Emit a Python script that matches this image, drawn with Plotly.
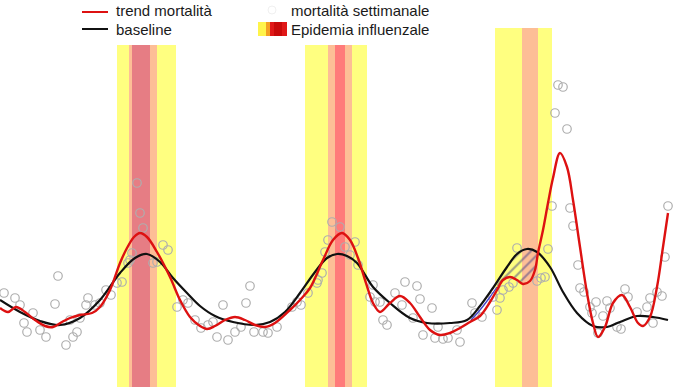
import plotly.graph_objects as go

W, H = 690, 387

# ---- data (x: time position, y: mortality level) ----
trend_x = [0, 8, 16, 25, 35, 45, 53, 62, 70, 80, 92, 100, 110, 120, 127, 134, 140, 147, 157, 170, 180, 190, 200,
           207, 215, 225, 235, 245, 255, 265, 275, 290, 300, 310, 323, 333, 342, 350, 358, 366, 373, 380, 390, 400,
           410, 420, 430, 440, 450, 460, 470, 480, 490, 497, 503, 510, 517, 523, 530, 535, 538, 543, 548, 553, 560,
           567, 573, 580, 587, 593, 598, 605, 613, 622, 630, 638, 643, 650, 657, 663, 668]
trend_y = [92, 88, 93, 88, 80, 74, 73, 78, 82, 85, 87, 93, 110, 137, 152, 163, 167, 163, 148, 123, 100, 83, 74,
           71, 74, 80, 83, 80, 75, 73, 77, 90, 100, 112, 140, 160, 167, 160, 142, 117, 97, 88, 97, 104,
           97, 83, 70, 65, 67, 72, 78, 84, 98, 110, 120, 123, 120, 116, 119, 130, 147, 170, 197, 222, 247,
           233, 200, 153, 107, 77, 63, 73, 97, 105, 93, 77, 74, 83, 113, 153, 187]

base_x = [0, 20, 40, 60, 80, 100, 120, 135, 147, 160, 173, 187, 200, 215, 233, 255, 270, 285, 300, 315, 327, 337,
          347, 357, 373, 390, 410, 427, 450, 467, 480, 493, 507, 517, 527, 537, 550, 563, 577, 593, 607, 620, 637,
          653, 668]
base_y = [100, 88, 79, 75, 82, 100, 127, 142, 146, 138, 122, 107, 94, 84, 78, 75, 78, 88, 107, 128, 142, 146,
          144, 137, 113, 97, 82, 77, 77, 80, 94, 112, 133, 146, 151, 148, 133, 108, 87, 74, 73, 78, 84,
          83, 80]

obs_x = [4, 15, 20, 24, 27, 33, 40, 46, 55, 58, 66, 73, 77, 70, 80, 86, 88, 95, 100, 106, 111, 117, 122, 128, 130,
         132, 137, 140, 143, 153, 157, 163, 168, 177, 183, 188, 195, 201, 208, 213, 217, 223, 228, 235, 241, 246,
         250, 254, 263, 268, 277, 292, 297, 301, 308, 317, 318, 322, 325, 328, 332, 340, 345, 350, 355, 358, 370,
         373, 375, 380, 383, 387, 395, 402, 405, 413, 417, 420, 423, 432, 435, 438, 443, 448, 457, 460, 472, 475,
         482, 493, 497, 500, 503, 509, 513, 517, 537, 541, 545, 548, 552, 555, 558, 563, 567, 570, 573, 578, 580,
         584, 590, 592, 596, 598, 603, 607, 610, 617, 621, 625, 628, 637, 647, 650, 653, 657, 662, 665, 668]
obs_y = [107, 102, 95, 77, 68, 87, 70, 63, 96, 124, 55, 63, 68, 80, 82, 95, 102, 95, 97, 110, 105, 117, 118, 137,
         140, 147, 217, 187, 172, 137, 138, 155, 150, 93, 100, 97, 80, 72, 75, 78, 63, 95, 60, 68, 73, 97,
         114, 68, 68, 67, 73, 93, 98, 95, 107, 117, 120, 127, 148, 160, 178, 173, 153, 145, 158, 135, 103,
         115, 98, 98, 80, 75, 107, 95, 118, 82, 114, 101, 65, 92, 62, 73, 61, 62, 70, 58, 97, 87,
         83, 103, 90, 102, 110, 113, 117, 152, 119, 122, 123, 151, 194, 287, 315, 313, 271, 192, 174, 135, 112,
         108, 93, 87, 98, 67, 84, 99, 92, 73, 71, 111, 103, 88, 93, 102, 77, 108, 104, 143, 194]

# excess segment (blue) and hatched excess area in the third epidemic
blue_x = [471, 480, 490, 497]
blue_y = [80, 90, 103, 113]
hatch_upper_x = [497, 507, 517, 527, 537]
hatch_upper_y = [115, 133, 146, 151, 148]
hatch_lower_x = [537, 535, 530, 523, 517, 510, 503, 497]
hatch_lower_y = [147, 130, 119, 116, 120, 123, 120, 112]

# epidemic periods: (start, end, top) for each intensity layer
epi_yellow = [(117, 176, 355), (305, 367, 355), (495, 552, 372)]
epi_salmon = [(129, 157, 355), (328, 352, 355), (522, 538, 372)]
epi_red = [(132, 150, 355, "#E67D84"), (335, 345, 355, "#FF7A7A")]

Y_MIN, Y_MAX = 13, 400

fig = go.Figure()

shapes = []
for x0, x1, top in epi_yellow:
    shapes.append(dict(type="rect", xref="x", yref="y", x0=x0, x1=x1, y0=Y_MIN - 5, y1=top,
                       fillcolor="#FFFF80", line=dict(width=0), layer="below"))
for x0, x1, top in epi_salmon:
    shapes.append(dict(type="rect", xref="x", yref="y", x0=x0, x1=x1, y0=Y_MIN - 5, y1=top,
                       fillcolor="#FDBE96", line=dict(width=0), layer="below"))
for x0, x1, top, col in epi_red:
    shapes.append(dict(type="rect", xref="x", yref="y", x0=x0, x1=x1, y0=Y_MIN - 5, y1=top,
                       fillcolor=col, line=dict(width=0), layer="below"))

fig.add_trace(go.Scatter(x=obs_x, y=obs_y, mode="markers",
                         marker=dict(symbol="circle-open", size=8.5, color="#AEAEAE", line=dict(width=1.2)),
                         showlegend=False))

fig.add_trace(go.Scatter(x=hatch_upper_x + hatch_lower_x, y=hatch_upper_y + hatch_lower_y,
                         mode="lines", fill="toself", line=dict(width=0, shape="spline"),
                         fillcolor="rgba(0,0,0,0)",
                         fillpattern=dict(shape="/", fgcolor="#3C3C88", bgcolor="rgba(0,0,0,0)",
                                          size=7, solidity=0.3),
                         showlegend=False))

fig.add_trace(go.Scatter(x=blue_x, y=blue_y, mode="lines",
                         line=dict(color="#4444CC", width=1.3, shape="spline"), showlegend=False))

fig.add_trace(go.Scatter(x=base_x, y=base_y, mode="lines",
                         line=dict(color="#111111", width=2.2, shape="spline", smoothing=1.0),
                         showlegend=False))
fig.add_trace(go.Scatter(x=trend_x, y=trend_y, mode="lines",
                         line=dict(color="#DD1111", width=2.4, shape="spline", smoothing=1.0),
                         showlegend=False))

# ---- manual legend ----
def px(x):
    return x / W

def py(y):
    return 1 - y / H

shapes += [
    dict(type="line", xref="paper", yref="paper", x0=px(82), x1=px(108), y0=py(12), y1=py(12),
         line=dict(color="#DD1111", width=2)),
    dict(type="line", xref="paper", yref="paper", x0=px(82), x1=px(108), y0=py(29), y1=py(29),
         line=dict(color="#111111", width=2)),
    dict(type="rect", xref="paper", yref="paper", x0=px(258), x1=px(266), y0=py(36), y1=py(22),
         fillcolor="#FFF44A", line=dict(width=0)),
    dict(type="rect", xref="paper", yref="paper", x0=px(266), x1=px(270), y0=py(36), y1=py(22),
         fillcolor="#F5A020", line=dict(width=0)),
    dict(type="rect", xref="paper", yref="paper", x0=px(270), x1=px(287), y0=py(36), y1=py(22),
         fillcolor="#E01818", line=dict(width=0)),
    dict(type="rect", xref="paper", yref="paper", x0=px(274), x1=px(282), y0=py(36), y1=py(22),
         fillcolor="#C80A0A", line=dict(width=0)),
    dict(type="circle", xref="paper", yref="paper", x0=px(268), x1=px(276), y0=py(14), y1=py(6),
         line=dict(color="#F0F0F0", width=1)),
]

font = dict(family="Liberation Sans, Arial, sans-serif", size=15, color="#1A1A1A")
annotations = [
    dict(text="trend mortalità", x=px(114), y=py(11), xref="paper", yref="paper",
         xanchor="left", yanchor="middle", showarrow=False, font=font),
    dict(text="baseline", x=px(114), y=py(29), xref="paper", yref="paper",
         xanchor="left", yanchor="middle", showarrow=False, font=font),
    dict(text="mortalità settimanale", x=px(289), y=py(11), xref="paper", yref="paper",
         xanchor="left", yanchor="middle", showarrow=False, font=font),
    dict(text="Epidemia influenzale", x=px(289), y=py(29), xref="paper", yref="paper",
         xanchor="left", yanchor="middle", showarrow=False, font=font),
]

fig.update_layout(
    width=W, height=H,
    margin=dict(l=0, r=0, t=0, b=0),
    paper_bgcolor="white", plot_bgcolor="white",
    xaxis=dict(range=[0, W], visible=False, fixedrange=True),
    yaxis=dict(range=[Y_MIN, Y_MAX], visible=False, fixedrange=True),
    shapes=shapes, annotations=annotations, showlegend=False,
)

fig.write_html("out.html", config={"displayModeBar": False},
               post_script="document.body.style.margin='0';document.body.style.overflow='hidden';")
